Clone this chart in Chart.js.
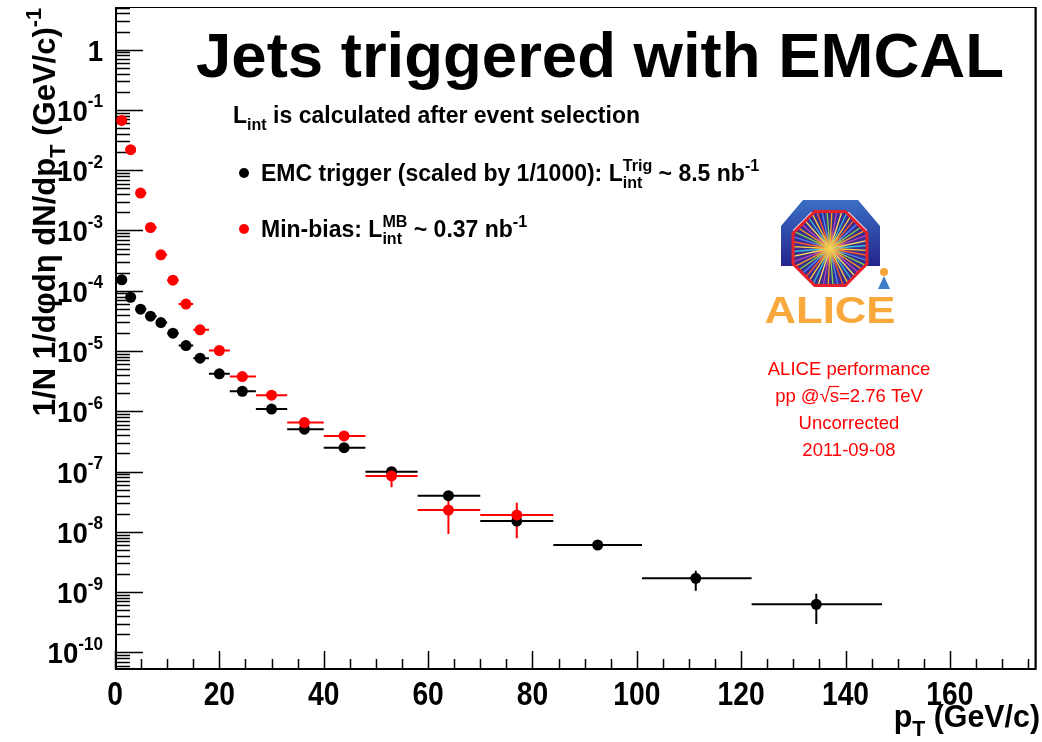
<!DOCTYPE html>
<html>
<head>
<meta charset="utf-8">
<script src="https://cdn.jsdelivr.net/npm/chart.js@4.4.0/dist/chart.umd.min.js"></script>
<style>
  html, body { margin: 0; padding: 0; background: #fff; }
  canvas { display: block; }
</style>
</head>
<body>
<canvas id="c" width="1042" height="742"></canvas>
<script>
// bins in pT (GeV/c)
const ptCenter = [1.3, 3.0, 4.9, 6.8, 8.8, 11.1, 13.6, 16.3, 20.0, 24.4, 30.0, 36.3, 43.9, 53.0, 63.9, 77.0, 92.5, 111.3, 134.4];
const ptLow    = [0.5, 2, 4, 6, 8, 10, 12.2, 15, 18, 22, 27, 33, 40, 48, 58, 70, 84, 101, 122];
const ptHigh   = [2, 4, 6, 8, 10, 12.2, 15, 18, 22, 27, 33, 40, 48, 58, 70, 84, 101, 122, 147];

// EMC trigger (scaled by 1/1000)
const emcYield = [1.52e-4, 7.8e-5, 4.95e-5, 3.79e-5, 2.97e-5, 1.98e-5, 1.23e-5, 7.6e-6, 4.18e-6, 2.15e-6,
                  1.09e-6, 5.04e-7, 2.49e-7, 9.97e-8, 3.98e-8, 1.51e-8, 6.05e-9, 1.69e-9, 6.26e-10];
const emcErrLo = [null, null, null, null, null, null, null, null, null, null,
                  null, null, null, null, null, null, null, 1.05e-9, 2.95e-10];
const emcErrHi = [null, null, null, null, null, null, null, null, null, null,
                  null, null, null, null, null, null, null, 2.26e-9, 9.4e-10];

// Min-bias
const mbYield = [0.067, 0.0219, 4.18e-3, 1.12e-3, 3.95e-4, 1.5e-4, 6.0e-5, 2.25e-5, 1.02e-5, 3.77e-6,
                 1.85e-6, 6.49e-7, 3.9e-7, 8.45e-8, 2.3e-8, 1.9e-8];
const mbErrLo = [null, null, null, null, null, null, null, null, null, null,
                 null, null, null, 5.5e-8, 9.2e-9, 7.8e-9];
const mbErrHi = [null, null, null, null, null, null, null, null, null, null,
                 null, null, null, null, 3.6e-8, 3.05e-8];

const xTicks = [0, 20, 40, 60, 80, 100, 120, 140, 160];
const yDecades = [0, -1, -2, -3, -4, -5, -6, -7, -8, -9, -10];

const FONT = '"Liberation Sans", Arial, Helvetica, sans-serif';

function toPoints(vals) {
  return vals.map((v, i) => ({ x: ptCenter[i], y: v }));
}

function partWidth(ctx, p, size, weight, small) {
  if (p.t !== undefined) {
    ctx.font = `${weight} ${size}px ${FONT}`;
    return ctx.measureText(p.t).width;
  }
  ctx.font = `${weight} ${size * small}px ${FONT}`;
  return Math.max(p.sub ? ctx.measureText(p.sub).width : 0, p.sup ? ctx.measureText(p.sup).width : 0);
}

// text with sub/superscripts, optional horizontal squeeze
function drawRich(ctx, parts, x, y, size, color, align, opts) {
  opts = opts || {};
  const weight = opts.weight || 'bold';
  const sx = opts.sx || 1;
  const small = opts.small || 0.7;
  let w = 0;
  parts.forEach(p => { w += partWidth(ctx, p, size, weight, small); });
  let cx = align === 'right' ? -w : align === 'center' ? -w / 2 : 0;
  ctx.save();
  ctx.translate(x, y);
  ctx.scale(sx, 1);
  ctx.fillStyle = color;
  ctx.textAlign = 'left';
  ctx.textBaseline = 'alphabetic';
  parts.forEach(p => {
    const pw = partWidth(ctx, p, size, weight, small);
    if (p.t !== undefined) {
      ctx.font = `${weight} ${size}px ${FONT}`;
      ctx.fillText(p.t, cx, 0);
    } else {
      ctx.font = `${weight} ${size * small}px ${FONT}`;
      if (p.sub) ctx.fillText(p.sub, cx, size * 0.3);
      if (p.sup) ctx.fillText(p.sup, cx, -size * 0.45);
    }
    cx += pw;
  });
  ctx.restore();
}

function drawAlice(ctx) {
  ctx.save();
  // blue arch
  const g = ctx.createLinearGradient(0, 200, 0, 266);
  g.addColorStop(0, '#3b6fc4');
  g.addColorStop(1, '#23248a');
  ctx.fillStyle = g;
  ctx.beginPath();
  ctx.moveTo(803, 200); ctx.lineTo(858, 200); ctx.lineTo(880, 226); ctx.lineTo(880, 266);
  ctx.lineTo(867, 266); ctx.lineTo(867, 230); ctx.lineTo(849, 212); ctx.lineTo(811, 212);
  ctx.lineTo(793, 230); ctx.lineTo(793, 266); ctx.lineTo(781, 266); ctx.lineTo(781, 226);
  ctx.closePath();
  ctx.fill();
  // octagon with rays
  const ox = 830, oy = 248.5, r = 40;
  const oct = [];
  for (let k = 0; k < 8; k++) {
    const a = Math.PI / 8 + k * Math.PI / 4;
    oct.push([ox + r * Math.cos(a), oy + r * Math.sin(a)]);
  }
  ctx.beginPath();
  oct.forEach((p, k) => k ? ctx.lineTo(p[0], p[1]) : ctx.moveTo(p[0], p[1]));
  ctx.closePath();
  ctx.fillStyle = '#3a2f8f';
  ctx.fill();
  ctx.save();
  ctx.clip();
  const rayCols = ['#ffd23a', '#ff5a2a', '#4a8cff', '#7fdc4a', '#ffa020', '#c040c0', '#ffe060', '#30c0e0'];
  ctx.lineWidth = 1.3;
  for (let k = 0; k < 48; k++) {
    const a = k * Math.PI * 2 / 48 + 0.05;
    ctx.strokeStyle = rayCols[k % rayCols.length];
    ctx.beginPath();
    ctx.moveTo(ox, oy);
    ctx.lineTo(ox + 50 * Math.cos(a), oy + 50 * Math.sin(a));
    ctx.stroke();
  }
  const glow = ctx.createRadialGradient(ox, oy, 0, ox, oy, 18);
  glow.addColorStop(0, 'rgba(255,220,80,0.95)');
  glow.addColorStop(1, 'rgba(255,160,40,0)');
  ctx.fillStyle = glow;
  ctx.fillRect(ox - 20, oy - 20, 40, 40);
  ctx.restore();
  ctx.beginPath();
  oct.forEach((p, k) => k ? ctx.lineTo(p[0], p[1]) : ctx.moveTo(p[0], p[1]));
  ctx.closePath();
  ctx.strokeStyle = '#e8202a';
  ctx.lineWidth = 3;
  ctx.stroke();
  // little figure
  ctx.fillStyle = '#f5a43a';
  ctx.beginPath(); ctx.arc(884, 272, 4, 0, Math.PI * 2); ctx.fill();
  ctx.fillStyle = '#3d7cc9';
  ctx.beginPath(); ctx.moveTo(884, 276); ctx.lineTo(890, 289); ctx.lineTo(878, 289); ctx.closePath(); ctx.fill();
  // ALICE word
  ctx.fillStyle = '#f9a83c';
  ctx.font = `bold 37px ${FONT}`;
  ctx.textAlign = 'center';
  ctx.textBaseline = 'alphabetic';
  ctx.save();
  ctx.translate(830, 323);
  ctx.scale(1.18, 1);
  ctx.fillText('ALICE', 0, 0);
  ctx.restore();
  ctx.restore();
}

const rootStyle = {
  id: 'rootStyle',
  beforeDatasetsDraw(chart) {
    const { ctx, chartArea: a, scales: { x, y } } = chart;
    ctx.save();
    // frame
    ctx.strokeStyle = '#000';
    ctx.lineWidth = 1;
    ctx.strokeRect(a.left + 0.5, a.top + 0.5, a.right - a.left - 1, a.bottom - a.top - 1);
    ctx.lineWidth = 2;
    ctx.beginPath();
    ctx.moveTo(a.left + 1, a.top); ctx.lineTo(a.left + 1, a.bottom);
    ctx.lineTo(a.right, a.bottom);
    ctx.moveTo(a.right - 1, a.top); ctx.lineTo(a.right - 1, a.bottom);
    ctx.stroke();
    // x ticks
    ctx.lineWidth = 1.5;
    ctx.beginPath();
    for (let v = 0; v <= x.max; v += 5) {
      const px = Math.round(x.getPixelForValue(v)) + 0.5;
      const len = v % 20 === 0 ? 18 : 10;
      ctx.moveTo(px, a.bottom); ctx.lineTo(px, a.bottom - len);
    }
    // y ticks
    for (let e = -11; e <= 0; e++) {
      for (let m = 1; m <= 9; m++) {
        const v = m * Math.pow(10, e);
        if (v < y.min || v > y.max) continue;
        const py = Math.round(y.getPixelForValue(v)) + 0.5;
        const len = m === 1 ? 28 : 15;
        ctx.moveTo(a.left, py); ctx.lineTo(a.left + len, py);
      }
    }
    ctx.stroke();
    // error bars
    const series = [
      { vals: emcYield, lo: emcErrLo, hi: emcErrHi, col: '#000' },
      { vals: mbYield, lo: mbErrLo, hi: mbErrHi, col: '#ff0000' }
    ];
    ctx.lineWidth = 2;
    series.forEach(s => {
      ctx.strokeStyle = s.col;
      ctx.beginPath();
      s.vals.forEach((v, i) => {
        const py = y.getPixelForValue(v);
        ctx.moveTo(x.getPixelForValue(ptLow[i]), py);
        ctx.lineTo(x.getPixelForValue(ptHigh[i]), py);
        const px = x.getPixelForValue(ptCenter[i]);
        if (s.lo[i] !== null) {
          ctx.moveTo(px, py); ctx.lineTo(px, y.getPixelForValue(s.lo[i]));
        }
        if (s.hi[i] !== null) {
          ctx.moveTo(px, py); ctx.lineTo(px, y.getPixelForValue(s.hi[i]));
        }
      });
      ctx.stroke();
    });
    ctx.restore();
  },
  afterDraw(chart) {
    const { ctx, scales: { x, y } } = chart;
    ctx.save();
    // x tick labels
    xTicks.forEach(v => {
      drawRich(ctx, [{ t: String(v) }], x.getPixelForValue(v), 705, 34, '#000', 'center', { sx: 0.83 });
    });
    // y tick labels
    yDecades.forEach(e => {
      const py = y.getPixelForValue(Math.pow(10, e));
      const parts = e === 0 ? [{ t: '1' }] : [{ t: '10' }, { sup: String(e) }];
      drawRich(ctx, parts, 103, py + 11, 30, '#000', 'right', { sx: 0.92, small: 0.62 });
    });
    // axis titles
    drawRich(ctx, [{ t: 'p' }, { sub: 'T' }, { t: ' (GeV/c)' }], 1040, 727, 31, '#000', 'right', { sx: 0.98 });
    ctx.save();
    ctx.translate(55, 212);
    ctx.rotate(-Math.PI / 2);
    drawRich(ctx, [{ t: '1/N 1/d\u03c6d\u03b7 dN/dp' }, { sub: 'T' }, { t: ' (GeV/c)' }, { sup: '-1' }],
      0, 0, 32, '#000', 'center', { sx: 0.97 });
    ctx.restore();
    // title
    ctx.fillStyle = '#000';
    ctx.font = `bold 63.5px ${FONT}`;
    ctx.textAlign = 'left';
    ctx.fillText('Jets triggered with EMCAL', 196, 77);
    // legend
    drawRich(ctx, [{ t: 'L' }, { sub: 'int' }, { t: ' is calculated after event selection' }], 233, 123, 23, '#000', 'left');
    const items = [
      { col: '#000', y: 173, parts: [{ t: 'EMC trigger (scaled by 1/1000): L' }, { sub: 'int', sup: 'Trig' }, { t: ' ~ 8.5 nb' }, { sup: '-1' }] },
      { col: '#ff0000', y: 229, parts: [{ t: 'Min-bias: L' }, { sub: 'int', sup: 'MB' }, { t: ' ~ 0.37 nb' }, { sup: '-1' }] }
    ];
    items.forEach(it => {
      ctx.fillStyle = it.col;
      ctx.beginPath(); ctx.arc(244, it.y, 5, 0, Math.PI * 2); ctx.fill();
      drawRich(ctx, it.parts, 261, it.y + 8, 23, '#000', 'left');
    });
    // ALICE logo and performance label
    drawAlice(ctx);
    ctx.fillStyle = '#ff0000';
    ctx.font = `18.5px ${FONT}`;
    ctx.textAlign = 'center';
    ctx.fillText('ALICE performance', 849, 375);
    const pre = 'pp @', rad = '\u221a', s = 's', post = '=2.76 TeV';
    const wPre = ctx.measureText(pre).width, wRad = ctx.measureText(rad).width;
    const wS = ctx.measureText(s).width, wPost = ctx.measureText(post).width;
    let lx = 849 - (wPre + wRad + wS + wPost) / 2;
    ctx.textAlign = 'left';
    ctx.fillText(pre, lx, 402); lx += wPre;
    ctx.fillText(rad, lx, 402); lx += wRad;
    ctx.strokeStyle = '#ff0000'; ctx.lineWidth = 1.2;
    ctx.beginPath(); ctx.moveTo(lx - 1, 386.5); ctx.lineTo(lx + wS, 386.5); ctx.stroke();
    ctx.fillText(s, lx, 402); lx += wS;
    ctx.fillText(post, lx, 402);
    ctx.textAlign = 'center';
    ctx.fillText('Uncorrected', 849, 429);
    ctx.fillText('2011-09-08', 849, 456);
    ctx.restore();
  }
};

new Chart(document.getElementById('c'), {
  type: 'scatter',
  data: {
    datasets: [
      { label: 'Min-bias', data: toPoints(mbYield), backgroundColor: '#ff0000', borderWidth: 0, pointRadius: 5.5 },
      { label: 'EMC trigger', data: toPoints(emcYield), backgroundColor: '#000', borderWidth: 0, pointRadius: 5.5 }
    ]
  },
  options: {
    responsive: false,
    devicePixelRatio: 1,
    animation: false,
    layout: { padding: { left: 115, top: 7, right: 5, bottom: 73 } },
    plugins: { legend: { display: false }, tooltip: { enabled: false } },
    scales: {
      x: { type: 'linear', min: 0, max: 176.6, display: false },
      y: { type: 'logarithmic', min: 5.3e-11, max: 5.1, display: false }
    }
  },
  plugins: [rootStyle]
});
</script>
</body>
</html>
